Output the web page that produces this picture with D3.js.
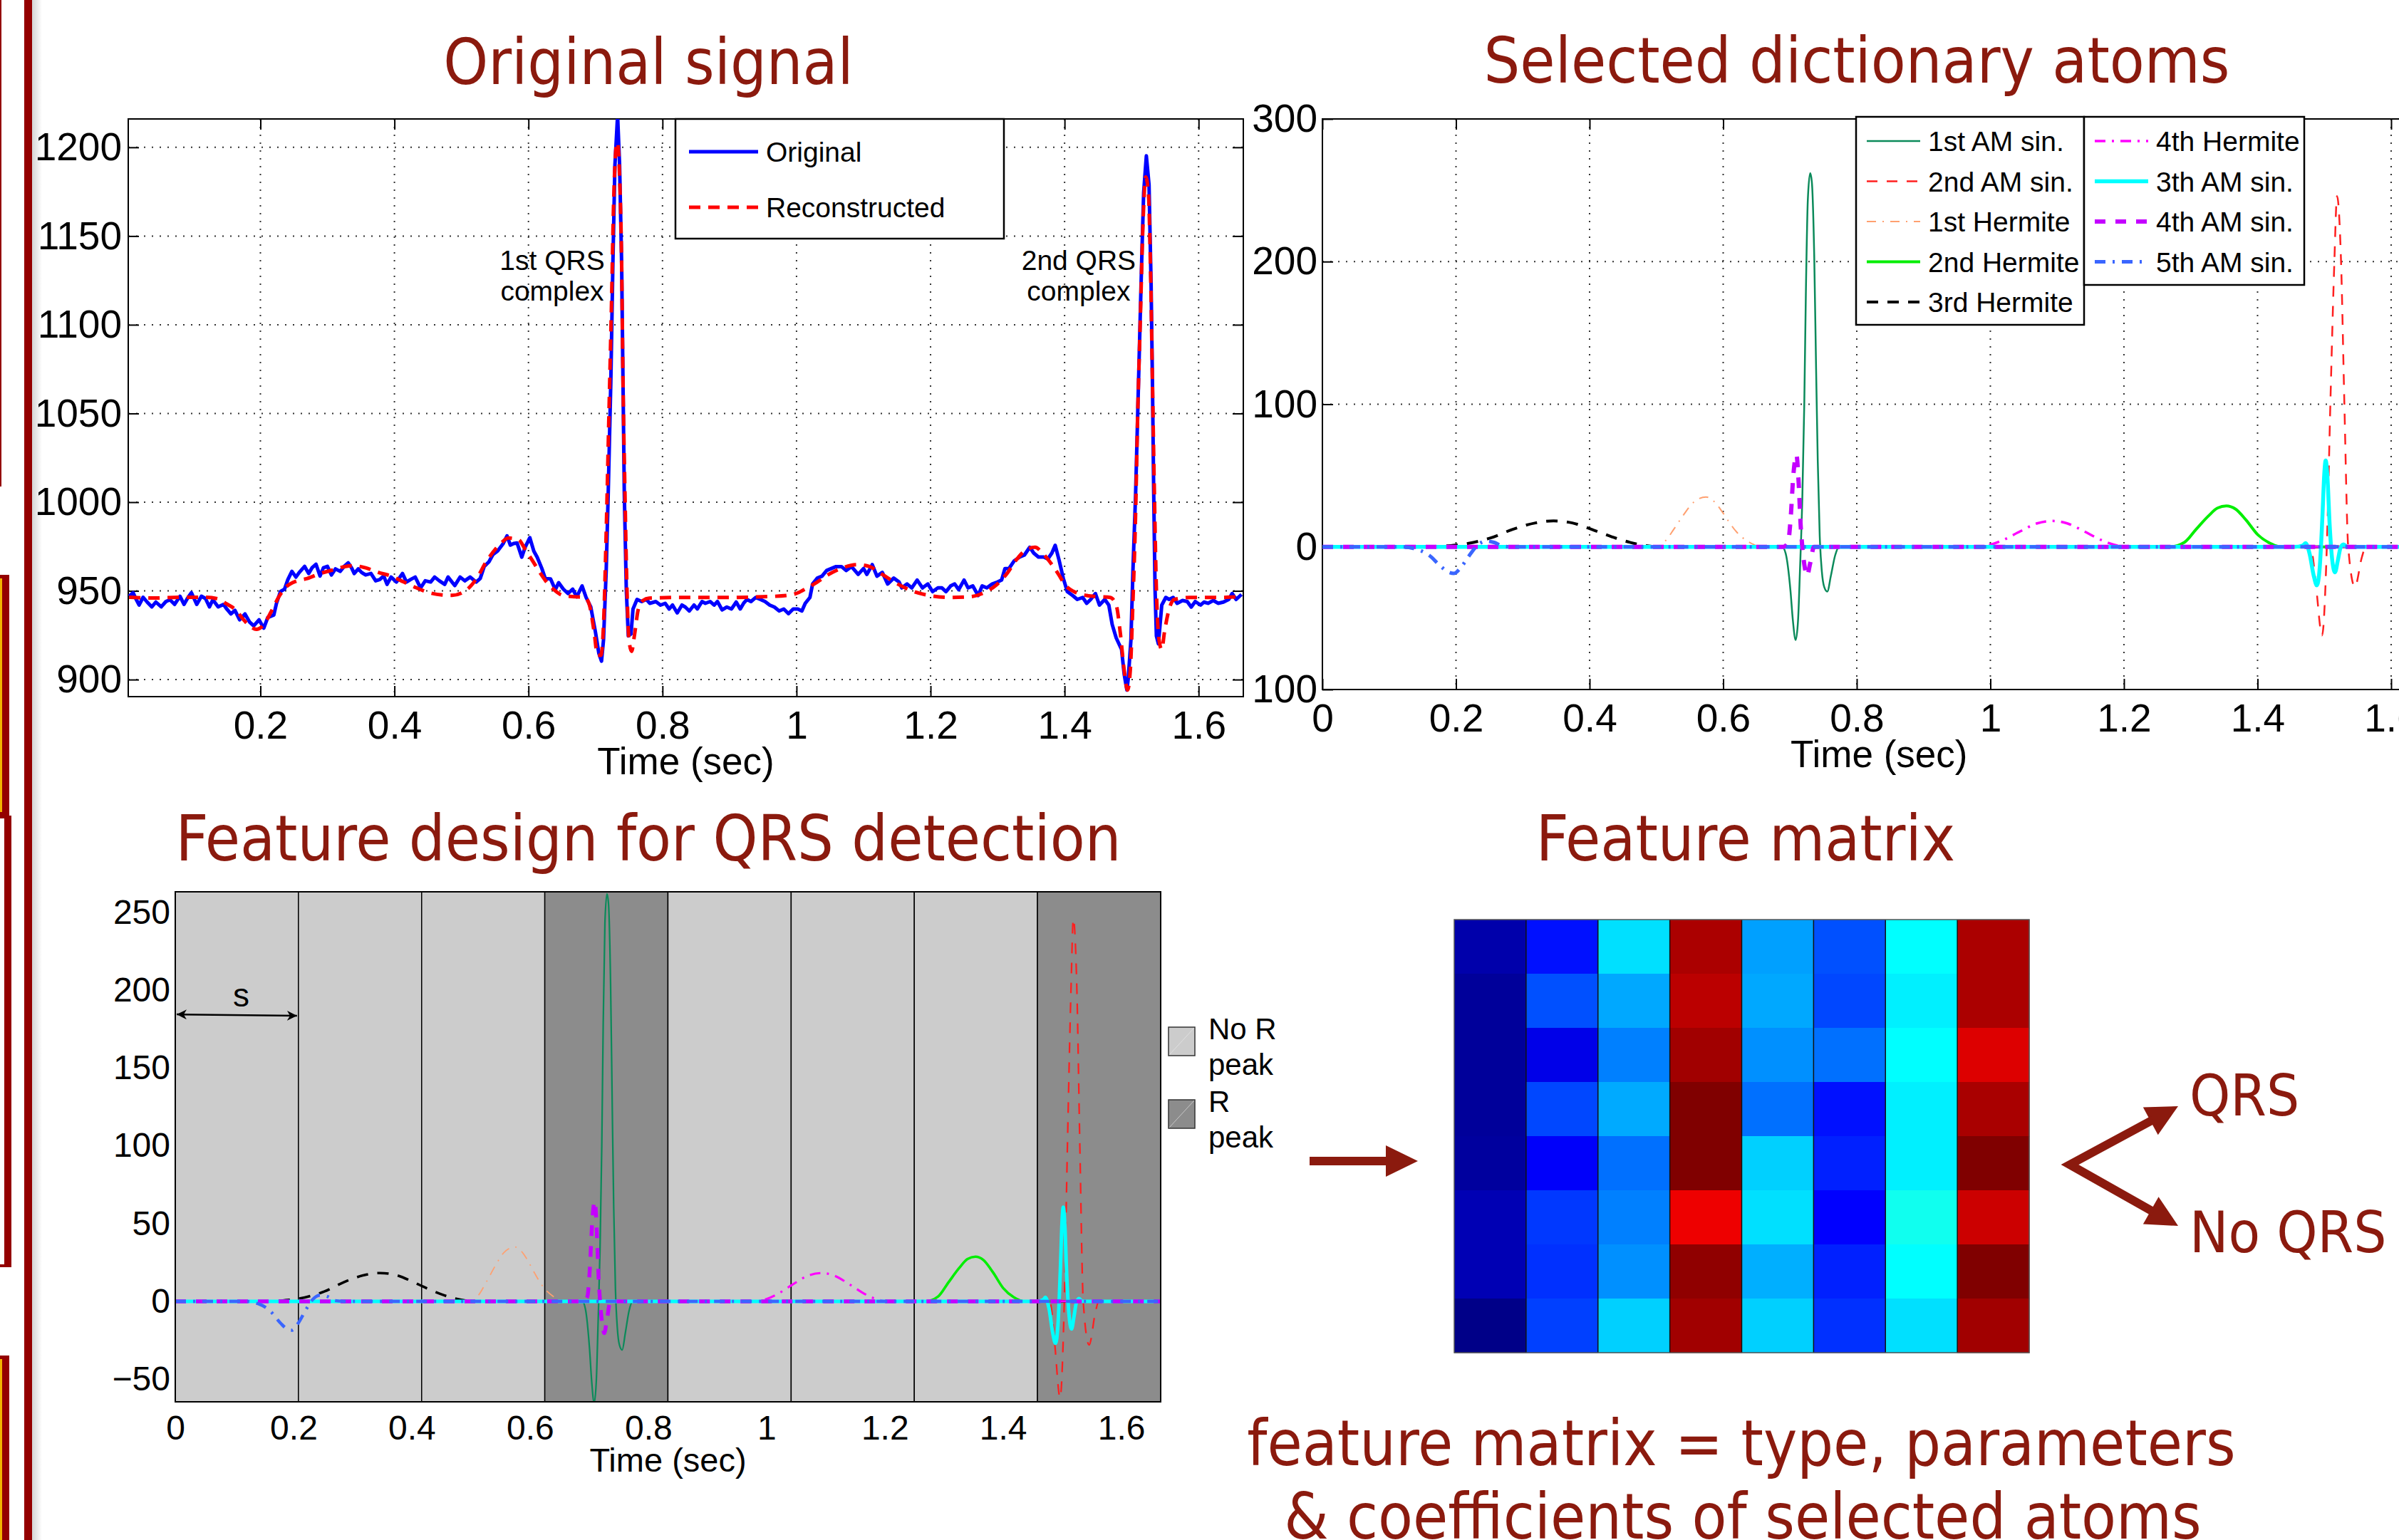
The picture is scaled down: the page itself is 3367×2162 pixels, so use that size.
<!DOCTYPE html>
<html>
<head>
<meta charset="utf-8">
<script src="https://cdn.jsdelivr.net/npm/d3@7"></script>
<style>
body { margin: 0; background: #fff; }
svg { display: block; }
</style>
</head>
<body>
<svg id="fig"></svg>
<script>
// ---------- data ----------

// original ECG segment [time (s), amplitude]
const originalSignal = [
[0.004,947],[0.010,949],[0.014,945.7],[0.019,942],[0.025,946.4],[0.031,943.7],[0.038,941],[0.044,943.7],[0.052,941],[0.059,944],
[0.065,945],[0.072,942.4],[0.080,947],[0.086,942.4],[0.091,945.7],[0.097,949],[0.105,942.4],[0.112,947],[0.118,945.7],[0.124,941],
[0.129,945],[0.137,941],[0.145,942.4],[0.150,939.7],[0.156,937],[0.162,939],[0.169,933.7],[0.177,937],[0.184,932.4],[0.190,930.3],
[0.198,933.7],[0.205,929],[0.211,935],[0.220,936.4],[0.224,943],[0.230,949.7],[0.236,951],[0.241,956.4],[0.247,961],[0.253,957.8],
[0.258,960.4],[0.266,963.8],[0.272,959.8],[0.277,963],[0.283,965],[0.289,958.4],[0.294,963],[0.300,963.8],[0.306,959],[0.312,962.4],
[0.319,961],[0.325,963.8],[0.331,965.8],[0.336,963],[0.340,959.8],[0.346,962.4],[0.351,960.4],[0.357,959],[0.365,959.8],[0.372,955.7],
[0.378,956.4],[0.384,958.4],[0.389,953.7],[0.395,957.8],[0.403,955],[0.412,959.8],[0.418,955],[0.424,956.4],[0.431,957.8],[0.439,951.7],
[0.446,955.7],[0.454,955],[0.460,957.8],[0.467,955.7],[0.475,953.7],[0.480,957.8],[0.490,953],[0.498,957.8],[0.505,955.7],[0.513,957.8],
[0.522,955],[0.528,957],[0.534,963.8],[0.541,966.4],[0.547,970.5],[0.554,972.5],[0.562,976.5],[0.568,981],[0.573,975.8],
[0.578,976.7],[0.583,977],[0.590,969],[0.595,974.6],[0.602,980],[0.608,972.4],[0.613,969],[0.620,962.6],[0.625,957],[0.633,956.7],
[0.640,950.7],[0.645,954.6],[0.652,951],[0.659,948.5],[0.666,951],[0.672,946.7],[0.680,952.8],[0.686,946.3],[0.693,940.9],[0.700,926.7],
[0.705,914.8],[0.709,910.4],[0.712,922.4],[0.716,961.5],[0.719,1005],[0.723,1070],[0.726,1135],[0.729,1190],[0.733,1218],[0.736,1190],
[0.739,1135],[0.741,1070],[0.743,1005],[0.746,950.7],[0.749,924.6],[0.753,925.7],[0.756,939.8],[0.762,945.2],[0.769,944],[0.776,945.2],
[0.781,943],[0.790,944],[0.797,942],[0.804,943],[0.810,939.8],[0.815,942],[0.822,937.6],[0.829,942],[0.834,940.9],[0.840,938.7],
[0.847,942],[0.852,939.8],[0.859,944],[0.864,943],[0.871,944],[0.877,942],[0.882,944],[0.889,939.3],[0.896,940.9],[0.903,939.8],
[0.910,943.7],[0.916,939.8],[0.921,943],[0.926,945.2],[0.932,944],[0.939,946.3],[0.946,945.2],[0.953,944],[0.960,942],[0.967,940.9],
[0.974,938.7],[0.981,939.8],[0.988,937.2],[0.995,939.8],[1.002,939.8],[1.008,938.7],[1.013,943],[1.020,946.3],[1.024,953.9],[1.031,957.2],
[1.038,958.3],[1.045,961.5],[1.052,962.6],[1.059,963.7],[1.067,963.7],[1.074,961.5],[1.082,963.7],[1.092,959.3],[1.100,962.6],[1.105,959.3],
[1.113,964.8],[1.120,958.3],[1.128,960.4],[1.136,953.9],[1.145,957.2],[1.153,955],[1.157,951.7],[1.165,953.9],[1.172,951.7],[1.180,956.1],
[1.188,951.7],[1.196,953.9],[1.203,949.6],[1.211,951.7],[1.217,951.7],[1.223,949.6],[1.230,952.8],[1.236,953.9],[1.242,950.7],[1.250,956.1],
[1.256,951.7],[1.263,952.8],[1.271,947.4],[1.277,952.8],[1.284,951.7],[1.292,953.9],[1.300,955],[1.306,956.1],[1.311,962.6],[1.317,962.6],
[1.325,967],[1.333,969.1],[1.340,970.2],[1.348,974.6],[1.354,971.3],[1.361,969.1],[1.369,969.1],[1.375,968],[1.381,971.3],[1.386,975.7],
[1.392,967],[1.398,957.2],[1.404,949.6],[1.412,947.4],[1.419,945.2],[1.427,946.3],[1.433,943],[1.439,945.2],[1.446,948.5],[1.452,942],
[1.460,945.2],[1.466,942],[1.471,931.1],[1.477,923.5],[1.485,917],[1.489,902.8],[1.493,894.1],[1.495,900.7],[1.499,922.4],[1.502,961.5],
[1.506,1005],[1.509,1048.5],[1.512,1092],[1.515,1135.4],[1.518,1174.6],[1.522,1195.2],[1.526,1178.9],[1.529,1124.6],[1.531,1070.2],[1.533,1005],
[1.535,950.7],[1.537,924.6],[1.540,920.2],[1.545,942],[1.551,946.3],[1.556,945.2],[1.562,946.3],[1.568,943],[1.576,944.6],[1.583,944],
[1.589,940.9],[1.595,944],[1.603,942],[1.608,943.7],[1.614,943],[1.622,944.6],[1.629,943],[1.637,943.7],[1.645,945.2],[1.650,948.5],
[1.656,945.2],[1.664,948]
];

// reconstruction from the selected atoms
const reconstructedSignal = [
[0.004,946.4],[0.042,946],[0.080,946.4],[0.118,946.4],[0.137,945.5],[0.148,943],[0.164,939],[0.175,933.7],[0.186,929.7],[0.194,928.3],
[0.205,931],[0.217,939],[0.228,947],[0.239,952.4],[0.255,955.7],[0.270,957],[0.289,959.8],[0.308,961.8],[0.327,963.8],[0.338,964.2],
[0.357,963],[0.376,960.4],[0.395,958.4],[0.414,955],[0.433,951.7],[0.452,949],[0.471,947.7],[0.486,947.5],[0.501,949],[0.513,952.4],
[0.524,957.8],[0.536,965.8],[0.547,971.8],[0.558,976.5],[0.570,979.8],[0.585,978.9],[0.595,973.5],[0.606,967],[0.617,960.4],[0.627,955],
[0.638,950.7],[0.652,947.4],[0.670,946.7],[0.684,946.3],[0.691,942],[0.698,926.7],[0.703,913.7],[0.708,913.7],[0.712,931],[0.716,983.3],
[0.720,1048.5],[0.724,1113.7],[0.727,1168],[0.731,1200.7],[0.733,1202.8],[0.736,1183.3],[0.739,1135],[0.741,1070],[0.744,1005],[0.747,950.7],
[0.750,922.4],[0.754,915.9],[0.758,924.6],[0.764,939.8],[0.771,944.6],[0.780,945.9],[0.826,946.3],[0.897,946.3],[0.949,946.7],[0.985,947.4],
[1.002,948.9],[1.016,951.7],[1.031,955],[1.048,959.3],[1.066,962.6],[1.090,964.8],[1.109,963.7],[1.128,959.3],[1.151,953.9],[1.175,949.6],
[1.198,947.4],[1.229,946.3],[1.259,946.7],[1.283,949.6],[1.298,953.3],[1.313,959.3],[1.329,968],[1.344,973.5],[1.356,974.6],[1.367,971.3],
[1.379,965.9],[1.391,959.3],[1.402,952.8],[1.414,949.6],[1.433,947.4],[1.452,946.7],[1.468,946.3],[1.477,942],[1.483,926.7],[1.489,905],
[1.494,894.1],[1.498,905],[1.502,944],[1.506,994.1],[1.509,1048.5],[1.513,1102.8],[1.517,1157.2],[1.521,1183.3],[1.525,1174.6],[1.528,1135.4],
[1.531,1070.2],[1.534,1005],[1.537,950.7],[1.541,922.4],[1.545,917],[1.549,926.7],[1.556,939.8],[1.564,945.2],[1.587,946.3],[1.626,946.3],
[1.664,946.7]
];

// selected dictionary atoms [time (s), amplitude]
const amSin1 = [[0,0],[0.6883,0],[0.6936,-4.7],[0.7007,-30.5],[0.7043,-51.4],[0.7085,-65.3],[0.7121,-51.4],[0.7149,-17.2],[0.7185,34.7],
  [0.7214,100],[0.7238,178],[0.7267,243],[0.7302,262],[0.7327,256],[0.7363,204],[0.7391,125],[0.7416,60],[0.7445,8],[0.7477,-17.2],
  [0.7512,-28],[0.7559,-31.3],[0.7612,-20.4],[0.7676,-6],[0.7737,0],[1.6667,0]];
const amSin2 = [[0,0],[1.479,0],[1.482,-5],[1.4877,-28],[1.4966,-62],[1.5037,0],[1.509,100],[1.515,200],[1.519,246],[1.525,200],
  [1.530,100],[1.5357,0],[1.5457,-28],[1.5563,-7],[1.562,0],[1.6667,0]];
const hermite1 = [[0,0],[0.500,0],[0.513,4],[0.526,12.3],[0.540,22],[0.555,31],[0.5744,35],[0.590,30],[0.5975,25.3],[0.608,18],
  [0.619,11],[0.640,3],[0.658,0],[1.6667,0]];
const hermite2 = [[0,0],[1.269,0],[1.2903,3.1],[1.308,12.3],[1.3259,21.4],[1.340,27.2],[1.3533,28.7],[1.3668,26.6],[1.3828,18.8],
  [1.4006,8.4],[1.4184,2.6],[1.436,0],[1.6667,0]];
const hermite3 = [[0,0],[0.160,0],[0.186,0.7],[0.219,2.5],[0.252,6.3],[0.285,12.3],[0.319,16.8],[0.346,18.2],[0.374,16.8],[0.407,11.6],
  [0.440,6],[0.473,1.8],[0.507,0],[1.6667,0]];
const hermite4 = [[0,0],[0.980,0],[1.000,1.5],[1.020,5],[1.045,11],[1.070,16.5],[1.093,18.2],[1.115,16.5],[1.140,11],[1.165,5],
  [1.185,1.5],[1.205,0],[1.6667,0]];
const amSin3 = [[0,0],[1.455,0],[1.468,1],[1.4717,2.6],[1.478,-5],[1.484,-20],[1.4888,-27],[1.493,-15],[1.497,20],[1.500,52],
  [1.502,60.6],[1.5045,50],[1.508,15],[1.512,-10],[1.516,-17.8],[1.520,-10],[1.524,-1],[1.5286,1.8],[1.534,0],[1.6667,0]];
const amSin4 = [[0,0],[0.690,0],[0.697,3],[0.701,20],[0.705,50],[0.7096,64.5],[0.713,45],[0.716,15],[0.7185,0],[0.722,-14],
  [0.7256,-20.4],[0.730,-12],[0.736,0],[1.6667,0]];
const amSin5 = [[0,0],[0.120,0],[0.140,-1.5],[0.160,-6],[0.178,-14],[0.190,-18],[0.197,-18.6],[0.208,-14],[0.220,-6],[0.232,1],
  [0.245,4],[0.258,3],[0.270,0.5],[0.285,0],[1.6667,0]];

const atomNames = ['1st AM sin.', '2nd AM sin.', '1st Hermite', '2nd Hermite', '3rd Hermite',
                   '4th Hermite', '3th AM sin.', '4th AM sin.', '5th AM sin.'];
const atomSeries = [amSin1, amSin2, hermite1, hermite2, hermite3, hermite4, amSin3, amSin4, amSin5];

// windows of length s, flagged when they hold an R peak
const windowStarts = [0, 0.2083, 0.4167, 0.625, 0.8333, 1.0417, 1.25, 1.4583];
const windowHasR = [0, 0, 0, 1, 0, 0, 0, 1];
const windowLegend = ['No R|peak', 'R|peak'];

// feature matrix (colormap position, 0..1), rows top to bottom
const featureMatrix = [
[0.042,0.141,0.345,0.958,0.282,0.203,0.375,0.958],
[0.026,0.203,0.290,0.942,0.290,0.195,0.360,0.958],
[0.026,0.102,0.250,0.968,0.266,0.235,0.375,0.908],
[0.026,0.195,0.292,1.000,0.235,0.141,0.360,0.960],
[0.030,0.120,0.235,1.000,0.329,0.156,0.360,1.000],
[0.051,0.180,0.250,0.892,0.345,0.125,0.391,0.925],
[0.051,0.172,0.266,0.984,0.297,0.156,0.375,1.000],
[0.008,0.188,0.329,0.968,0.329,0.172,0.345,0.968]
];

// ticks
const timeTicks = [0.2, 0.4, 0.6, 0.8, 1, 1.2, 1.4, 1.6];
const timeTicks0 = [0, 0.2, 0.4, 0.6, 0.8, 1, 1.2, 1.4, 1.6];
const signalTicks = [900, 950, 1000, 1050, 1100, 1150, 1200];
const atomTicks = [-100, 0, 100, 200, 300];
const featureTicks = [-50, 0, 50, 100, 150, 200, 250];

// ---------- drawing ----------
const W = 3367, H = 2162;
const RED = '#8b1a0e';
const TFONT = "'DejaVu Sans Condensed', 'DejaVu Sans', sans-serif";
const AFONT = "'Liberation Sans', Arial, Helvetica, sans-serif";

const svg = d3.select('#fig').attr('width', W).attr('height', H);
const defs = svg.append('defs');
const fmt = d3.format('~g');

// slide decoration on the left edge
const grad = defs.append('linearGradient').attr('id', 'shade');
grad.append('stop').attr('offset', '0%').attr('stop-color', '#d4d4d4');
grad.append('stop').attr('offset', '100%').attr('stop-color', '#ffffff');
svg.append('rect').attr('x', 45).attr('y', 0).attr('width', 14).attr('height', H).attr('fill', 'url(#shade)');
svg.append('rect').attr('x', 34).attr('y', 0).attr('width', 11).attr('height', H).attr('fill', '#940000');
svg.append('rect').attr('x', 0).attr('y', 0).attr('width', 2).attr('height', 683).attr('fill', '#940000');
svg.append('rect').attr('x', 0).attr('y', 807).attr('width', 13).attr('height', 338).attr('fill', '#940000');
svg.append('rect').attr('x', 0).attr('y', 812).attr('width', 3).attr('height', 328).attr('fill', '#f2b400');
svg.append('rect').attr('x', 0).attr('y', 1145).attr('width', 16).attr('height', 634).attr('fill', '#940000');
svg.append('rect').attr('x', 0).attr('y', 1149).attr('width', 6).attr('height', 626).attr('fill', '#ffffff');
svg.append('rect').attr('x', 0).attr('y', 1903).attr('width', 13).attr('height', H - 1903).attr('fill', '#940000');
svg.append('rect').attr('x', 0).attr('y', 1908).attr('width', 3).attr('height', H - 1908).attr('fill', '#f2b400');

function title(txt, x, y, size) {
  svg.append('text').attr('x', x).attr('y', y)
    .attr('text-anchor', 'middle')
    .attr('font-family', TFONT).style('font-stretch', 'condensed')
    .attr('font-size', size || 89).attr('fill', RED)
    .text(txt);
}

function clip(id, x, y, w, h) {
  defs.append('clipPath').attr('id', id).append('rect')
    .attr('x', x).attr('y', y).attr('width', w).attr('height', h);
  return 'url(#' + id + ')';
}

// MATLAB-like boxed axes with dotted grid and inward ticks
function matlabAxes(g, x, y, xt, yt, opt) {
  const [x0, x1] = x.range(), [y1, y0] = y.range();
  const tl = 15;
  if (opt.grid) {
    const grid = g.append('g').attr('stroke', '#333').attr('stroke-width', 2).attr('stroke-dasharray', '2,9');
    grid.selectAll('.gx').data(xt).join('line')
      .attr('x1', d => x(d)).attr('x2', d => x(d)).attr('y1', y0).attr('y2', y1);
    grid.selectAll('.gy').data(yt).join('line')
      .attr('y1', d => y(d)).attr('y2', d => y(d)).attr('x1', x0).attr('x2', x1);
  }
  const style = a => {
    a.select('.domain').remove();
    a.selectAll('line').attr('stroke', '#000').attr('stroke-width', 2);
    a.selectAll('text').attr('font-family', AFONT).attr('font-size', opt.fs).attr('fill', '#000');
  };
  g.append('g').attr('transform', `translate(0,${y1})`)
    .call(d3.axisBottom(x).tickValues(xt).tickFormat(fmt).tickSize(opt.ticks ? -tl : 0).tickSizeOuter(0).tickPadding(opt.padX))
    .call(style);
  g.append('g').attr('transform', `translate(${x0},0)`)
    .call(d3.axisLeft(y).tickValues(yt).tickFormat(fmt).tickSize(opt.ticks ? -tl : 0).tickSizeOuter(0).tickPadding(opt.padY))
    .call(style);
  if (opt.ticks) {
    g.append('g').attr('transform', `translate(0,${y0})`)
      .call(d3.axisTop(x).tickValues(xt).tickFormat('').tickSize(-tl).tickSizeOuter(0)).call(style);
    g.append('g').attr('transform', `translate(${x1},0)`)
      .call(d3.axisRight(y).tickValues(yt).tickFormat('').tickSize(-tl).tickSizeOuter(0)).call(style);
  }
  g.append('rect').attr('x', x0).attr('y', y0).attr('width', x1 - x0).attr('height', y1 - y0)
    .attr('fill', 'none').attr('stroke', '#000').attr('stroke-width', 2);
  g.append('text').attr('x', (x0 + x1) / 2).attr('y', opt.labelY)
    .attr('text-anchor', 'middle').attr('font-family', AFONT).attr('font-size', opt.lfs)
    .text('Time (sec)');
}

const atomStyle = [
  { color: '#0b8a5a', w: 2.5, dash: null },
  { color: '#ff1f1f', w: 2.5, dash: '15,13' },
  { color: '#ffa070', w: 2,   dash: '13,9,2,9' },
  { color: '#00ee00', w: 4,   dash: null },
  { color: '#000000', w: 4,   dash: '16,13' },
  { color: '#ff00ff', w: 3.5, dash: '15,9,3,9' },
  { color: '#00ffff', w: 5.5, dash: null },
  { color: '#c400ff', w: 6,   dash: '15,14' },
  { color: '#3a66ff', w: 5,   dash: '15,10,3,10' }
];

function drawAtoms(g, x, y, k) {
  const line = d3.line().x(d => x(d[0])).y(d => y(d[1])).curve(d3.curveMonotoneX);
  atomSeries.forEach((s, i) => {
    const st = atomStyle[i];
    g.append('path').datum(s).attr('d', line)
      .attr('fill', 'none').attr('stroke', st.color).attr('stroke-width', st.w * k)
      .attr('stroke-dasharray', st.dash);
  });
}

// ----- Selected dictionary atoms (top right, drawn first: the left axes cover its overflow) -----
const xTR = d3.scaleLinear().domain([0, 1.6667]).range([1856, 3418.5]);
const yTR = d3.scaleLinear().domain([-100, 300]).range([968, 167]);
const gTR = svg.append('g');
gTR.append('rect').attr('x', 1856).attr('y', 167).attr('width', 1562.5).attr('height', 801).attr('fill', '#fff');
matlabAxes(gTR, xTR, yTR, timeTicks0, atomTicks, { grid: true, ticks: true, fs: 55, lfs: 53, padX: 20, padY: 7, labelY: 1077 });
drawAtoms(gTR.append('g').attr('clip-path', clip('cTR', 1856, 167, 1562.5, 801)), xTR, yTR, 1);

// legend in two columns
function atomLegend(g, idx, bx, by, bw, bh) {
  g.append('rect').attr('x', bx).attr('y', by).attr('width', bw).attr('height', bh)
    .attr('fill', '#fff').attr('stroke', '#000').attr('stroke-width', 2.5);
  idx.forEach((i, r) => {
    const cy = by + 34 + r * 56.5;
    const st = atomStyle[i];
    g.append('line').attr('x1', bx + 15).attr('x2', bx + 90).attr('y1', cy).attr('y2', cy)
      .attr('stroke', st.color).attr('stroke-width', st.w).attr('stroke-dasharray', st.dash);
    g.append('text').attr('x', bx + 101).attr('y', cy + 14)
      .attr('font-family', AFONT).attr('font-size', 39).text(atomNames[i]);
  });
}
atomLegend(gTR, [0, 1, 2, 3, 4], 2605, 164, 320, 292);
atomLegend(gTR, [5, 6, 7, 8], 2925, 164, 309, 236);

title('Selected dictionary atoms', 2606, 116);

// ----- Original signal (top left) -----
const xTL = d3.scaleLinear().domain([0.0028, 1.6667]).range([180, 1745]);
const yTL = d3.scaleLinear().domain([890.4, 1216]).range([978, 167]);
const gTL = svg.append('g');
// white axes background; it also hides the minus sign of the neighbour's lowest tick
gTL.append('rect').attr('x', 180).attr('y', 167).attr('width', 1578).attr('height', 811).attr('fill', '#fff');
matlabAxes(gTL, xTL, yTL, timeTicks, signalTicks, { grid: true, ticks: true, fs: 55, lfs: 53, padX: 20, padY: 9, labelY: 1087 });
const pTL = gTL.append('g').attr('clip-path', clip('cTL', 180, 167, 1565, 811));
const lineTL = d3.line().x(d => xTL(d[0])).y(d => yTL(d[1]));
pTL.append('path').datum(originalSignal).attr('d', lineTL)
  .attr('fill', 'none').attr('stroke', '#0000ff').attr('stroke-width', 5).attr('stroke-linejoin', 'round');
pTL.append('path').datum(reconstructedSignal).attr('d', lineTL.curve(d3.curveMonotoneX))
  .attr('fill', 'none').attr('stroke', '#ff0000').attr('stroke-width', 5).attr('stroke-dasharray', '16,11');

const qrsNotes = [
  { lines: ['1st QRS', 'complex'], t: 0.6354, v: 1131 },
  { lines: ['2nd QRS', 'complex'], t: 1.4210, v: 1131 }
];
qrsNotes.forEach(n => {
  n.lines.forEach((s, i) => {
    gTL.append('text').attr('x', xTL(n.t)).attr('y', yTL(n.v) + i * 43)
      .attr('text-anchor', 'middle').attr('font-family', AFONT).attr('font-size', 39).text(s);
  });
});

const lgTL = gTL.append('g');
lgTL.append('rect').attr('x', 948).attr('y', 167).attr('width', 461).attr('height', 168)
  .attr('fill', '#fff').attr('stroke', '#000').attr('stroke-width', 2.5);
[['Original', '#0000ff', null], ['Reconstructed', '#ff0000', '16,11']].forEach((e, i) => {
  const cy = 213 + i * 78;
  lgTL.append('line').attr('x1', 967).attr('x2', 1064).attr('y1', cy).attr('y2', cy)
    .attr('stroke', e[1]).attr('stroke-width', 5).attr('stroke-dasharray', e[2]);
  lgTL.append('text').attr('x', 1075).attr('y', cy + 14)
    .attr('font-family', AFONT).attr('font-size', 39).text(e[0]);
});

title('Original signal', 910, 118);

// ----- Feature design for QRS detection (bottom left) -----
const xBL = d3.scaleLinear().domain([0, 1.6667]).range([246, 1629]);
const yBL = d3.scaleLinear().domain([-64.6, 263.3]).range([1968, 1252]);
const gBL = svg.append('g');
const winW = windowStarts[1] - windowStarts[0];
gBL.selectAll('.win').data(windowStarts).join('rect')
  .attr('x', d => xBL(d)).attr('y', 1252)
  .attr('width', (d, i) => xBL(i < windowStarts.length - 1 ? windowStarts[i + 1] : 1.6667) - xBL(d))
  .attr('height', 716)
  .attr('fill', (d, i) => windowHasR[i] ? '#8c8c8c' : '#cccccc')
  .attr('stroke', '#000').attr('stroke-width', 1.5);
drawAtoms(gBL.append('g').attr('clip-path', clip('cBL', 246, 1252, 1383, 716)), xBL, yBL, 0.9);
matlabAxes(gBL, xBL, yBL, timeTicks0, featureTicks, { grid: false, ticks: false, fs: 48, lfs: 47, padX: 19, padY: 7, labelY: 2066 });

// window length arrow
defs.append('marker').attr('id', 'ah').attr('viewBox', '0 0 10 10').attr('refX', 10).attr('refY', 5)
  .attr('markerWidth', 14).attr('markerHeight', 14).attr('markerUnits', 'userSpaceOnUse').attr('orient', 'auto-start-reverse')
  .append('path').attr('d', 'M0,0 L10,5 L0,10 L3,5 Z').attr('fill', '#000');
gBL.append('line').attr('x1', xBL(windowStarts[0]) + 2).attr('x2', xBL(windowStarts[1]) - 2)
  .attr('y1', yBL(184.5)).attr('y2', yBL(184.5) + 2)
  .attr('stroke', '#000').attr('stroke-width', 2.5)
  .attr('marker-start', 'url(#ah)').attr('marker-end', 'url(#ah)');
gBL.append('text').attr('x', xBL(winW / 2) + 6).attr('y', yBL(184.5) - 11)
  .attr('text-anchor', 'middle').attr('font-family', AFONT).attr('font-size', 46).text('s');

// window legend
[['#cccccc', 1442], ['#8c8c8c', 1544]].forEach((e, i) => {
  gBL.append('rect').attr('x', 1640).attr('y', e[1]).attr('width', 37).attr('height', 40)
    .attr('fill', e[0]).attr('stroke', '#333').attr('stroke-width', 1.5);
  gBL.append('line').attr('x1', 1641).attr('y1', e[1] + 39).attr('x2', 1676).attr('y2', e[1] + 1)
    .attr('stroke', '#eee').attr('stroke-width', 1).attr('opacity', 0.6);
  windowLegend[i].split('|').forEach((s, j) => {
    gBL.append('text').attr('x', 1696).attr('y', e[1] + 17 + j * 50)
      .attr('font-family', AFONT).attr('font-size', 42).text(s);
  });
});

title('Feature design for QRS detection', 910, 1208);

// ----- Feature matrix -----
const jet = d3.scaleLinear()
  .domain([0, 0.125, 0.375, 0.625, 0.875, 1])
  .range(['#000080', '#0000ff', '#00ffff', '#ffff00', '#ff0000', '#800000']);
const xHM = d3.scaleBand().domain(d3.range(featureMatrix[0].length)).range([2041, 2848]);
const yHM = d3.scaleBand().domain(d3.range(featureMatrix.length)).range([1291, 1899]);
const gHM = svg.append('g');
featureMatrix.forEach((row, r) => {
  gHM.selectAll('.r' + r).data(row).join('rect')
    .attr('x', (d, c) => xHM(c)).attr('y', yHM(r))
    .attr('width', xHM.bandwidth() + 0.5).attr('height', yHM.bandwidth() + 0.5)
    .attr('fill', d => jet(d));
});
gHM.selectAll('.sep').data(d3.range(1, featureMatrix[0].length)).join('line')
  .attr('x1', d => xHM(d)).attr('x2', d => xHM(d)).attr('y1', 1291).attr('y2', 1899)
  .attr('stroke', '#111').attr('stroke-width', 1.5);
gHM.append('rect').attr('x', 2041).attr('y', 1291).attr('width', 807).attr('height', 608)
  .attr('fill', 'none').attr('stroke', '#555').attr('stroke-width', 1.5);

title('Feature matrix', 2450, 1208);

// arrows
function arrowHead(g, x1, y1, x2, y2, len, half) {
  const a = Math.atan2(y2 - y1, x2 - x1);
  const bx = x2 - len * Math.cos(a), by = y2 - len * Math.sin(a);
  g.append('polygon').attr('fill', RED).attr('points', [
    [x2, y2],
    [bx + half * Math.sin(a), by - half * Math.cos(a)],
    [bx - half * Math.sin(a), by + half * Math.cos(a)]
  ].map(p => p.join(',')).join(' '));
  return [bx + 4 * Math.cos(a), by + 4 * Math.sin(a)];
}
const gAr = svg.append('g');
const b0 = arrowHead(gAr, 1838, 1630, 1990, 1630, 45, 22);
gAr.append('line').attr('x1', 1838).attr('y1', 1630).attr('x2', b0[0]).attr('y2', b0[1])
  .attr('stroke', RED).attr('stroke-width', 12);
const apex = [2905, 1635];
const bUp = arrowHead(gAr, apex[0], apex[1], 3057, 1553, 44, 22);
const bDn = arrowHead(gAr, apex[0], apex[1], 3057, 1721, 44, 22);
gAr.append('path').attr('d', `M${bUp[0]},${bUp[1]} L${apex[0]},${apex[1]} L${bDn[0]},${bDn[1]}`)
  .attr('fill', 'none').attr('stroke', RED).attr('stroke-width', 12).attr('stroke-linejoin', 'miter');

svg.append('text').attr('x', 3073).attr('y', 1566).attr('font-family', TFONT).style('font-stretch', 'condensed')
  .attr('font-size', 81).attr('fill', RED).text('QRS');
svg.append('text').attr('x', 3073).attr('y', 1758).attr('font-family', TFONT).style('font-stretch', 'condensed')
  .attr('font-size', 81).attr('fill', RED).text('No QRS');

title('feature matrix = type, parameters', 2444, 2057);
title('& coefficients of selected atoms', 2446, 2160);
</script>
</body>
</html>
